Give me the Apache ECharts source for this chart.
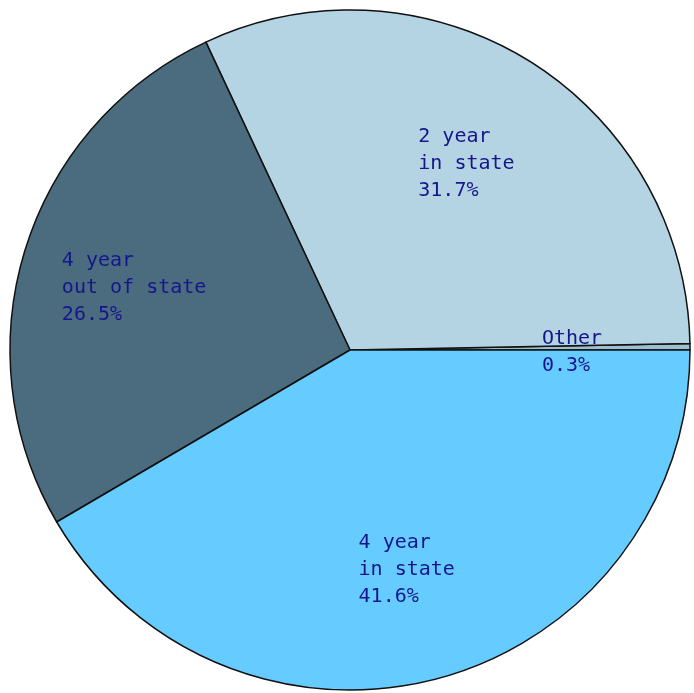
<!DOCTYPE html>
<html>
<head>
<meta charset="utf-8">
<script src="https://cdn.jsdelivr.net/npm/echarts@6/dist/echarts.min.js"></script>
<style>
  html, body { margin: 0; padding: 0; background: #fff; }
  #main { width: 694px; height: 693px; }
</style>
</head>
<body>
<div id="main"></div>
<script>
// slice data, counter-clockwise from 3 o'clock
var categories = ['Other', '2 year\nin state', '4 year\nout of state', '4 year\nin state']
var values = [0.3, 31.7, 26.5, 41.6]
var colors = ['#9dbfd0', '#b4d4e4', '#4b6b7e', '#66ccff']

// monospace font: pad every line to the same width so the block reads left-aligned
function padLines(text) {
  var lines = text.split('\n')
  var w = 0
  lines.forEach(function (l) { w = Math.max(w, l.length) })
  return lines.map(function (l) {
    while (l.length < w) l += ' '
    return l
  }).join('\n')
}

var pieData = categories.map(function (c, i) {
  return { name: c, value: values[i], itemStyle: { color: colors[i] } }
})
var labelData = categories.map(function (c, i) {
  return { name: c, value: values[i] }
})

var chart = echarts.init(document.getElementById('main'))
chart.setOption({
  animation: false,
  series: [
    // the pie itself
    {
      type: 'pie',
      center: [350, 350],
      radius: 340,
      startAngle: 0,
      clockwise: false,
      minAngle: 0,
      avoidLabelOverlap: false,
      silent: true,
      itemStyle: { borderColor: '#111', borderWidth: 1.5 },
      label: { show: false },
      labelLine: { show: false },
      data: pieData
    },
    // label-only ring, so 'inside' labels sit at about 0.65 of the radius
    {
      type: 'pie',
      center: [350, 350],
      radius: 442,
      startAngle: 0,
      clockwise: false,
      minAngle: 0,
      avoidLabelOverlap: false,
      silent: true,
      itemStyle: { color: 'rgba(0,0,0,0)', borderWidth: 0 },
      label: {
        show: true,
        position: 'inside',
        offset: [-2, 4],
        fontFamily: 'DejaVu Sans Mono',
        fontSize: 20,
        lineHeight: 27,
        color: '#16168c',
        formatter: function (p) {
          return padLines(p.name + '\n' + p.value.toFixed(1) + '%')
        }
      },
      labelLine: { show: false },
      data: labelData
    }
  ]
})
</script>
</body>
</html>
